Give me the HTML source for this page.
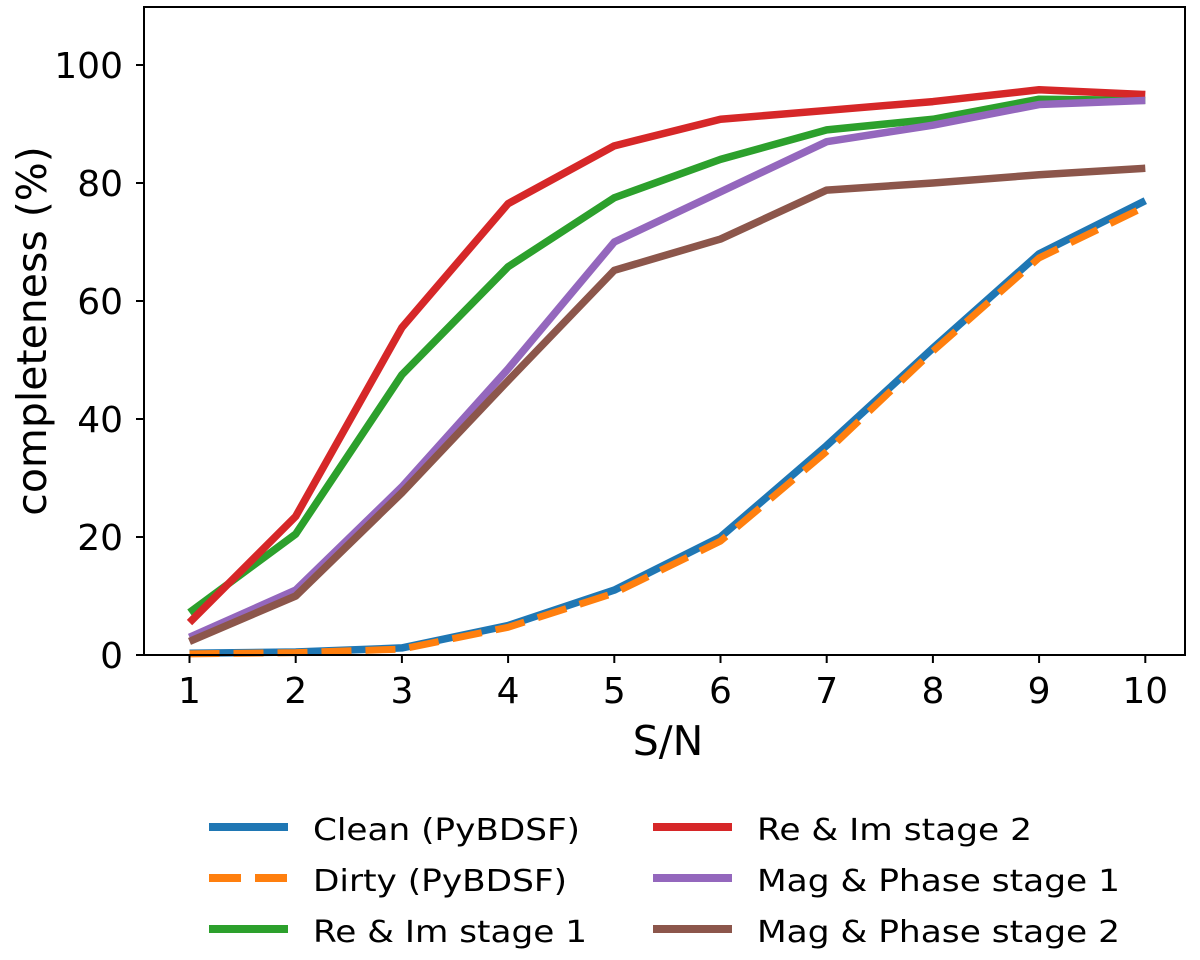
<!DOCTYPE html>
<html><head><meta charset="utf-8"><style>
body{margin:0;background:#fff}
svg text{font-family:"DejaVu Sans","Liberation Sans",sans-serif;fill:#000}
</style></head><body>
<svg id="chart" width="1200" height="955" xmlns="http://www.w3.org/2000/svg">
<g id="lines"></g>
<rect x="144" y="7" width="1041" height="648" fill="none" stroke="#000" stroke-width="2"/>
<g id="axes"></g>
<text x="668" y="755" font-size="41" text-anchor="middle">S/N</text>
<text transform="translate(46,331) rotate(-90)" font-size="41" text-anchor="middle">completeness (%)</text>
<g id="legend"></g>
</svg>
<script>
const snr=[1,2,3,4,5,6,7,8,9,10];
const yTicks=[0,20,40,60,80,100];
const seriesNames=["Clean (PyBDSF)","Dirty (PyBDSF)","Re & Im stage 1","Re & Im stage 2","Mag & Phase stage 1","Mag & Phase stage 2"];
const clean=[0.3,0.5,1.2,5,11,20,35.5,52,68,77];
const dirty=[0.2,0.4,1,4.7,10.5,19.3,34.5,51.5,67.3,76];
const reIm1=[7.2,20.5,47.5,65.8,77.5,84,89,90.8,94.2,94];
const reIm2=[5.5,23.5,55.5,76.5,86.3,90.8,92.3,93.8,95.8,95];
const mag1=[3,11,28.5,48.5,70,78.5,87,89.8,93.3,94];
const mag2=[2.3,10,27.5,46.5,65.2,70.5,78.8,80,81.4,82.5];
const NS="http://www.w3.org/2000/svg";
const X=v=>189.5+(v-1)*106.2;
const Y=v=>655-v*5.9;
const colors=["#1f77b4","#ff7f0e","#2ca02c","#d62728","#9467bd","#8c564b"];
const data=[clean,dirty,reIm1,reIm2,mag1,mag2];
const dn=["line-clean","line-dirty","line-re-im-stage-1","line-re-im-stage-2","line-mag-phase-stage-1","line-mag-phase-stage-2"];
const lines=document.getElementById('lines');
[2,3,4,5,0,1].forEach(i=>{
  const p=document.createElementNS(NS,'polyline');
  p.setAttribute('points',snr.map((s,j)=>X(s)+','+Y(data[i][j])).join(' '));
  p.setAttribute('fill','none');p.setAttribute('stroke',colors[i]);p.setAttribute('stroke-width','7.5');
  p.setAttribute('stroke-linejoin','round');
  if(i===1){p.setAttribute('stroke-dasharray','30 14');p.setAttribute('stroke-width','7');}
  
  
  lines.appendChild(p);
});
const axes=document.getElementById('axes');
snr.forEach(s=>{
  const l=document.createElementNS(NS,'line');
  l.setAttribute('x1',X(s));l.setAttribute('x2',X(s));l.setAttribute('y1',655);l.setAttribute('y2',663);l.setAttribute('stroke','#000');l.setAttribute('stroke-width','2');
  
  
  axes.appendChild(l);
  const t=document.createElementNS(NS,'text');
  t.setAttribute('x',X(s));t.setAttribute('y',703);t.setAttribute('font-size','36');t.setAttribute('text-anchor','middle');t.textContent=s;
  
  
  axes.appendChild(t);
});
yTicks.forEach(v=>{
  const l=document.createElementNS(NS,'line');
  l.setAttribute('x1',136);l.setAttribute('x2',144);l.setAttribute('y1',Y(v));l.setAttribute('y2',Y(v));l.setAttribute('stroke','#000');l.setAttribute('stroke-width','2');
  
  
  axes.appendChild(l);
  const t=document.createElementNS(NS,'text');
  t.setAttribute('x',123);t.setAttribute('y',Y(v)+13);t.setAttribute('font-size','36');t.setAttribute('text-anchor','end');t.textContent=v;
  
  
  axes.appendChild(t);
});
const leg=document.getElementById('legend');
const pos=[[209,827],[209,878],[209,929],[653,827],[653,878],[653,929]];
const tl=[267,254,274,275,363,363];
seriesNames.forEach((n,i)=>{
  const [lx,ly]=pos[i];
  const l=document.createElementNS(NS,'line');
  l.setAttribute('x1',lx);l.setAttribute('x2',lx+79);l.setAttribute('y1',ly);l.setAttribute('y2',ly);
  l.setAttribute('stroke',colors[i]);l.setAttribute('stroke-width','8');
  if(i===1)l.setAttribute('stroke-dasharray','32 14');
  
  
  leg.appendChild(l);
  const t=document.createElementNS(NS,'text');
  t.setAttribute('x',lx+104);t.setAttribute('y',ly+13);t.setAttribute('font-size','30');
  t.setAttribute('textLength',tl[i]);t.setAttribute('lengthAdjust','spacingAndGlyphs');
  t.textContent=n;
  
  
  leg.appendChild(t);
});
</script>
</body></html>
